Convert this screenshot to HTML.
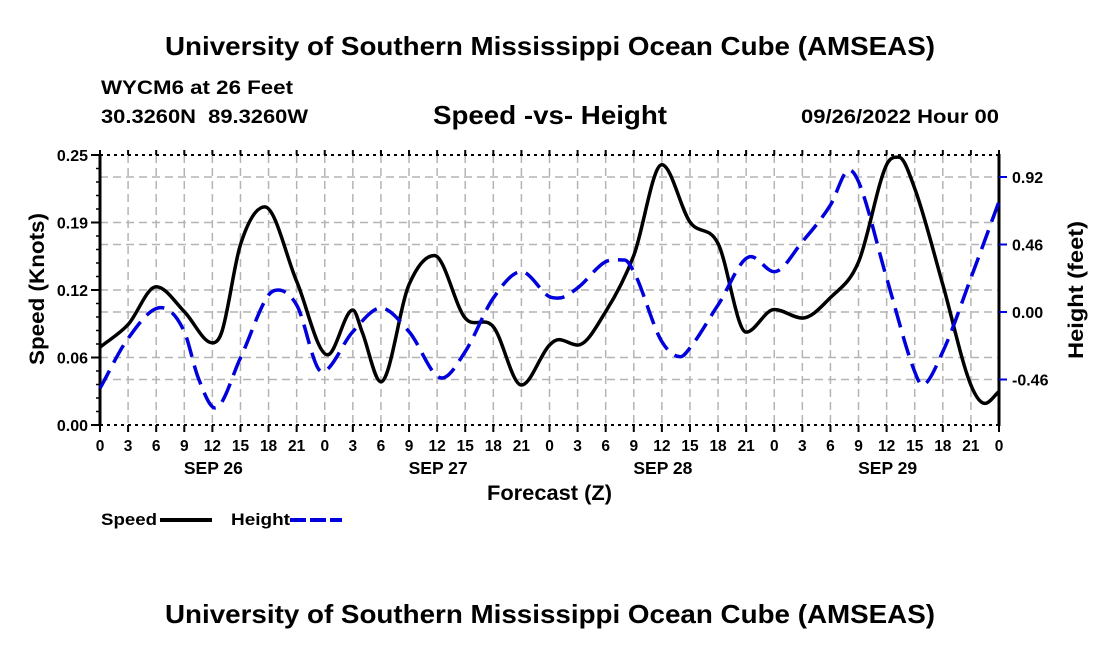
<!DOCTYPE html>
<html><head><meta charset="utf-8"><style>
html,body{margin:0;padding:0;background:#fff;}
svg text{font-family:"Liberation Sans",Arial,sans-serif;font-weight:bold;fill:#000;white-space:pre;}
</style></head><body>
<svg id="chart" width="1100" height="650" viewBox="0 0 1100 650" xmlns="http://www.w3.org/2000/svg">
<text x="165" y="55" font-size="26" textLength="770" lengthAdjust="spacingAndGlyphs">University of Southern Mississippi Ocean Cube (AMSEAS)</text>
<text x="101" y="94" font-size="19" textLength="192" lengthAdjust="spacingAndGlyphs">WYCM6 at 26 Feet</text>
<text x="101" y="123" font-size="19" textLength="207" lengthAdjust="spacingAndGlyphs">30.3260N  89.3260W</text>
<text x="433" y="124" font-size="26" textLength="234" lengthAdjust="spacingAndGlyphs">Speed -vs- Height</text>
<text x="801" y="123" font-size="19" textLength="198" lengthAdjust="spacingAndGlyphs">09/26/2022 Hour 00</text>
<text transform="translate(44,289) rotate(-90)" font-size="21" text-anchor="middle" textLength="152" lengthAdjust="spacingAndGlyphs">Speed (Knots)</text>
<text transform="translate(1083,290) rotate(-90)" font-size="21" text-anchor="middle" textLength="138" lengthAdjust="spacingAndGlyphs">Height (feet)</text>
<text x="487" y="500" font-size="21" textLength="125" lengthAdjust="spacingAndGlyphs">Forecast (Z)</text>
<g id="grid"></g>
<g id="axes"></g>
<g id="series"></g>
<g>
<text x="101" y="525" font-size="17" textLength="56" lengthAdjust="spacingAndGlyphs">Speed</text>
<line x1="160" y1="520" x2="212" y2="520" stroke="#000" stroke-width="4"/>
<text x="231" y="525" font-size="17" textLength="59" lengthAdjust="spacingAndGlyphs">Height</text>
<line x1="290" y1="520" x2="342" y2="520" stroke="#0000dd" stroke-width="4" stroke-dasharray="16,4"/>
</g>
<text x="165" y="623" font-size="26" textLength="770" lengthAdjust="spacingAndGlyphs">University of Southern Mississippi Ocean Cube (AMSEAS)</text>
</svg>
<script>
const speedHours=[0,3,6,9,12,13,15,17.6,21,24.3,27,28,30,33,35.7,39,42,45,48,49,51,54,57,60,63,66,69,72,75,78,81,84,85.3,87,90,93,94.5,96];
const speedValues=[0.072,0.093,0.128,0.105,0.076,0.086,0.167,0.202,0.133,0.065,0.1065,0.086,0.040,0.130,0.157,0.099,0.091,0.037,0.074,0.079,0.074,0.105,0.157,0.241,0.188,0.168,0.086,0.107,0.099,0.118,0.151,0.241,0.248,0.219,0.130,0.037,0.020,0.031];
const heightHours=[0,3,6.5,9,10.5,12.3,15,18,19,21,23.7,27,30,33,36.5,39,42,45,48,49,51,54,56,57,60,62,63,66,69.5,72,75,78,80,81,84,87,87.8,90,93,96];
const heightValues=[-0.52,-0.18,0.03,-0.134,-0.45,-0.654,-0.313,0.116,0.15,0.048,-0.407,-0.134,0.027,-0.134,-0.45,-0.27,0.095,0.275,0.104,0.095,0.164,0.343,0.354,0.275,-0.202,-0.305,-0.245,0.048,0.377,0.275,0.479,0.729,0.968,0.888,0.232,-0.407,-0.497,-0.27,0.232,0.752];
const xTickLabels=["0","3","6","9","12","15","18","21"];
const dayLabels=["SEP 26","SEP 27","SEP 28","SEP 29"];
const leftTickValues=[0,0.0625,0.125,0.1875,0.25];
const leftTickLabels=["0.00","0.06","0.12","0.19","0.25"];
const rightTickValues=[-0.46,0,0.46,0.92];
const rightTickLabels=["-0.46","0.00","0.46","0.92"];

const X0=100,X1=999,YT=155,YB=425;
const xs=h=>X0+h/96*(X1-X0);
const ysL=v=>YB-v/0.25*(YB-YT);
const ysR=v=>312-v/0.46*67.5;
const NS="http://www.w3.org/2000/svg";
function mk(tag,attrs,parent){const e=document.createElementNS(NS,tag);for(const k in attrs)e.setAttribute(k,attrs[k]);parent.appendChild(e);return e;}
const grid=document.getElementById('grid'),axes=document.getElementById('axes'),series=document.getElementById('series');

for(let h=3;h<96;h+=3){const l=mk('line',{x1:xs(h),x2:xs(h),y1:YT,y2:YB,stroke:'#b4b4b4','stroke-width':1.5,'stroke-dasharray':'8,5'},grid);

}
[...leftTickValues.map(ysL),...rightTickValues.map(ysR)].forEach(y=>{if(y>YT+1&&y<YB-1){const l=mk('line',{x1:X0,x2:X1,y1:y,y2:y,stroke:'#b4b4b4','stroke-width':1.5,'stroke-dasharray':'8,5'},grid);

}});

mk('line',{x1:X0,x2:X1,y1:YT,y2:YT,stroke:'#000','stroke-width':2,'stroke-dasharray':'3,4'},axes);
mk('line',{x1:X0,x2:X1,y1:YB,y2:YB,stroke:'#000','stroke-width':2,'stroke-dasharray':'3,4'},axes);
mk('line',{x1:X0,x2:X0,y1:YT-1,y2:YB+1,stroke:'#000','stroke-width':3},axes);
mk('line',{x1:X1,x2:X1,y1:YT-1,y2:YB+1,stroke:'#000','stroke-width':3},axes);
for(let i=0;i<=20;i++){const y=YT+i*(YB-YT)/20;mk('line',{x1:X0-4,x2:X0,y1:y,y2:y,stroke:'#000','stroke-width':1.5},axes);}
leftTickValues.forEach((v,i)=>{const y=ysL(v);mk('line',{x1:X0-9,x2:X0,y1:y,y2:y,stroke:'#000','stroke-width':2},axes);
const t=mk('text',{x:X0-12,y:y+6,'font-size':16,'text-anchor':'end'},axes);t.textContent=leftTickLabels[i];

});
rightTickValues.forEach((v,i)=>{const y=ysR(v);mk('line',{x1:X1,x2:X1+8,y1:y,y2:y,stroke:'#0000dd','stroke-width':2},axes);
const t=mk('text',{x:X1+13,y:y+6,'font-size':16},axes);t.textContent=rightTickLabels[i];

});
for(let h=0;h<=96;h+=3){const x=xs(h);mk('line',{x1:x,x2:x,y1:YB,y2:YB+7,stroke:'#000','stroke-width':2},axes);mk('line',{x1:x,x2:x,y1:YT-5,y2:YT,stroke:'#000','stroke-width':2},axes);
const t=mk('text',{x:x,y:451,'font-size':15.5,'text-anchor':'middle'},axes);t.textContent=xTickLabels[(h/3)%8];

}
dayLabels.forEach((d,i)=>{const t=mk('text',{x:xs(i*24+12)+1,y:474,'font-size':17.5,'text-anchor':'middle'},axes);t.textContent=d;

});

function smooth(hs,vs,yf){const n=hs.length,d=[],m=[];
for(let i=0;i<n-1;i++)d.push((vs[i+1]-vs[i])/(hs[i+1]-hs[i]));
for(let i=0;i<n;i++){if(i==0)m.push(d[0]);else if(i==n-1)m.push(d[n-2]);else m.push(d[i-1]*d[i]<=0?0:(d[i-1]+d[i])/2);}
let p='M'+xs(hs[0])+','+yf(vs[0]);
for(let i=0;i<n-1;i++){const dh=hs[i+1]-hs[i];
p+=' C'+xs(hs[i]+dh/3)+','+yf(vs[i]+m[i]*dh/3)+' '+xs(hs[i+1]-dh/3)+','+yf(vs[i+1]-m[i+1]*dh/3)+' '+xs(hs[i+1])+','+yf(vs[i+1]);}
return p;}
const sp=mk('path',{d:smooth(speedHours,speedValues,ysL),fill:'none',stroke:'#000','stroke-width':3.5,'stroke-linejoin':'round'},series);


const hp=mk('path',{d:smooth(heightHours,heightValues,ysR),fill:'none',stroke:'#0000dd','stroke-width':3.5,'stroke-dasharray':'20,9'},series);


</script>
</body></html>
